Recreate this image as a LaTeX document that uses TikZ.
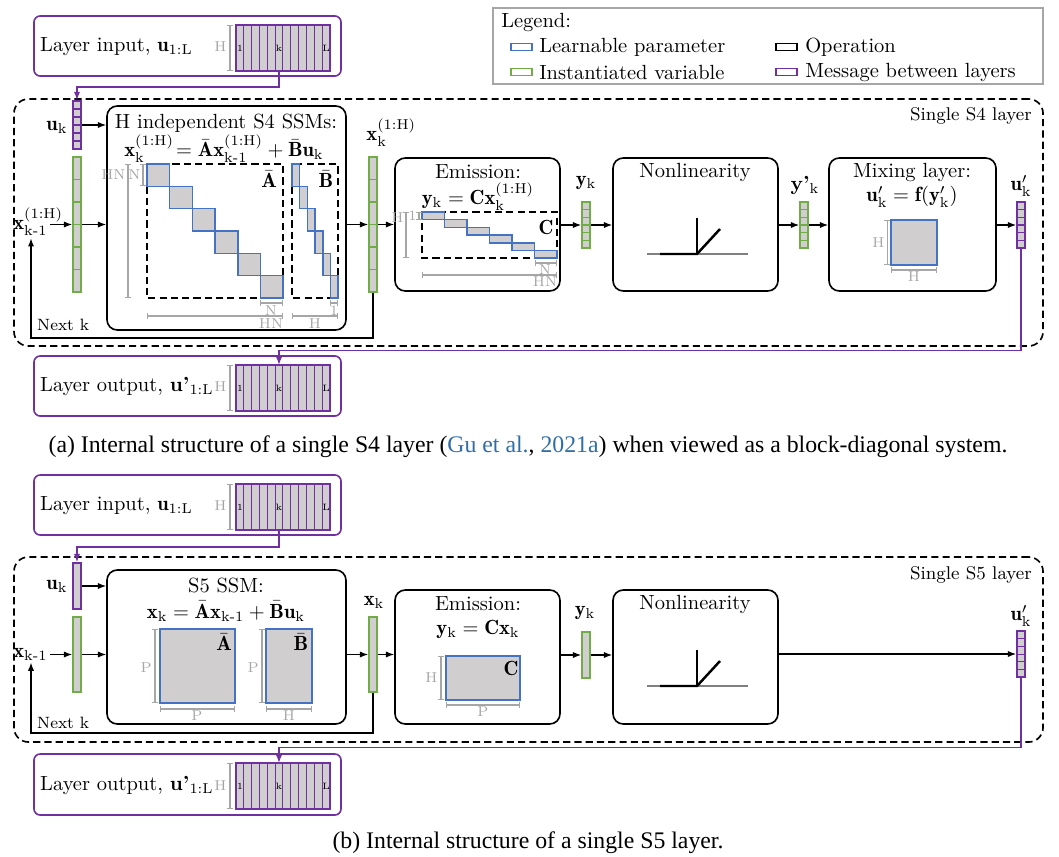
\documentclass[tikz,border=0pt]{standalone}
\usepackage{amsmath}
\usepackage{fontspec}
\newfontfamily\capfont{Liberation Serif}
\usetikzlibrary{arrows.meta,fit}
\definecolor{lblue}{HTML}{4472C4}
\definecolor{lgreen}{HTML}{70AD47}
\definecolor{lpurple}{HTML}{7030A0}
\definecolor{lgrey}{HTML}{D0CECE}
\definecolor{dimgrey}{HTML}{A6A6A6}
\definecolor{citeblue}{HTML}{2F6EA8}
\newcommand{\km}{\mathrm{k}\textrm{-}1}

\begin{document}
\begin{tikzpicture}[x=0.4878pt, y=-0.4878pt]
    \tikzset{%
      opbox/.style={draw, line width=0.8pt, rounded corners=5pt, inner sep=0pt},
      msgbox/.style={draw=lpurple, line width=0.8pt, rounded corners=3pt, inner sep=0pt},
      layerbox/.style={draw, line width=0.8pt, dash pattern=on 3.5pt off 2pt,
        rounded corners=7pt, inner sep=0pt},
      matbox/.style={draw, line width=0.8pt, dash pattern=on 3.5pt off 2pt},
      param/.style={draw=lblue, line width=0.8pt, fill=lgrey},
      vecg/.style={draw=lgreen, line width=0.8pt, fill=lgrey, inner sep=0pt},
      vecp/.style={draw=lpurple, line width=0.8pt, fill=lgrey, inner sep=0pt},
      cellg/.style={lgreen, line width=0.5pt},
      cellp/.style={lpurple, line width=0.5pt},
      dimline/.style={dimgrey, line width=0.5pt, {Bar[width=3pt]}-{Bar[width=3pt]}},
      dimlab/.style={text=dimgrey, font=\scriptsize, inner sep=0.5pt},
      cnum/.style={font=\fontsize{4.5}{5}\selectfont, inner sep=0pt},
      eqn/.style={inner sep=0.5pt},
      flow/.style={-{Latex[length=4pt, width=3pt]}, line width=0.6pt},
      msgflow/.style={flow, lpurple},
      legkey/.style={draw, line width=0.8pt, minimum width=10pt,
        minimum height=3.5pt, inner sep=0pt},
      caption/.style={font=\capfont\fontsize{11.6}{14}\selectfont},
    }
    \useasboundingbox (0,0) rectangle (1059,856);

    % legend
    \node[draw=dimgrey, line width=0.8pt, inner sep=0pt, fit={(493,8) (1043,84)}] (legend) {};
    \node[anchor=west] (legtitle) at (494,23) {Legend:};
    \node[legkey, lblue] (keyparam) at (521.5,47) {};
    \node[anchor=west] at (532,47) {Learnable parameter};
    \node[legkey, lgreen] (keyvar) at (521.5,72) {};
    \node[anchor=west] at (532,72) {Instantiated variable};
    \node[legkey] (keyop) at (786.5,47) {};
    \node[anchor=west] at (798,47) {Operation};
    \node[legkey, lpurple] (keymsg) at (786.5,72) {};
    \node[anchor=west] at (798,72) {Message between layers};

    %%% (a) S4 layer
    \node[msgbox, fit={(34,16) (341,76)}] (inboxa) {};
    \node[anchor=west] (intexta) at (33,47) {Layer input, $\mathbf{u}_{\mathrm{1:L}}$};
    \node[vecp, fit={(236,25) (330,71)}] (ina) {};
    \foreach \i in {1,...,11} \draw[cellp] ({236+\i*7.83},25) -- ({236+\i*7.83},71);
    \node[cnum] at (239.9,48) {1};
    \node[cnum] at (279,48) {k};
    \node[cnum] at (326.1,48) {L};
    \draw[dimline] (230,25) -- (230,71);
    \node[dimlab, anchor=east] at (228,47) {H};
    \coordinate (ka) at (279,71);

    \node[layerbox, fit={(14,99) (1043,346)}] (s4) {};
    \node[anchor=east, font=\small] at (1039,116) {Single S4 layer};

    \node[vecp, fit={(73,101) (81,149)}] (uka) {};
    \foreach \i in {1,...,5} \draw[cellp] (73,{101+\i*8}) -- (81,{101+\i*8});
    \node (uklaba) at (57,127) {$\mathbf{u}_\mathrm{k}$};
    \draw[msgflow] (ka) -- ++(0,16) -| (uka.north);

    \node[vecg, fit={(73,157) (81,292)}] (xpa) {};
    \foreach \i in {1,...,5} \draw[cellg] (73,{157+\i*22.5}) -- (81,{157+\i*22.5});
    \node[anchor=east, inner sep=1pt] (xplaba) at (50,222) {$\mathbf{x}_{\km}^{\rlap{$\scriptstyle(1:\mathrm{H})$}}$};
    \node[anchor=west, font=\footnotesize] at (30,325) {Next k};

    % S4 SSMs
    \node[opbox, fit={(107,106) (346,330)}] (ssma) {};
    \node[eqn] (ssmtitlea) at (226,123) {H independent S4 SSMs:};
    \node[eqn] (ssmeqa) at (224,149) {$\mathbf{x}_\mathrm{k}^{(1:\mathrm{H})}\!= \bar{\mathbf{A}}\mathbf{x}_{\km}^{(1:\mathrm{H})} + \bar{\mathbf{B}}\mathbf{u}_\mathrm{k}$};
    \draw[matbox] (147,164) rectangle (283,298);
    \foreach \i in {0,...,5} \draw[param] ({147+\i*22.67},{164+\i*22.33}) rectangle ++(22.67,22.33);
    \node[eqn] at (269,179) {$\bar{\mathbf{A}}$};
    \draw[matbox] (292,164) rectangle (338,298);
    \foreach \i in {0,...,5} \draw[param] ({292+\i*7.67},{164+\i*22.33}) rectangle ++(7.67,22.33);
    \node[eqn] at (326,179) {$\bar{\mathbf{B}}$};
    \draw[dimline] (128,164) -- (128,298);
    \node[dimlab, anchor=east] at (127,175) {HN};
    \draw[dimline] (143,164) -- (143,186);
    \node[dimlab, anchor=east] at (142,175) {N};
    \draw[dimline] (260,303) -- (283,303);
    \node[dimlab] at (271,311) {N};
    \draw[dimline] (147,316) -- (283,316);
    \node[dimlab] at (271,324) {HN};
    \draw[dimline] (330,303) -- (338,303);
    \node[dimlab] at (334,311) {1};
    \draw[dimline] (292,316) -- (338,316);
    \node[dimlab] at (315,324) {H};

    \node[vecg, fit={(369,157) (377,292)}] (xka) {};
    \foreach \i in {1,...,5} \draw[cellg] (369,{157+\i*22.5}) -- (377,{157+\i*22.5});
    \node[anchor=west, inner sep=1pt] (xklaba) at (364,133) {$\mathbf{x}_\mathrm{k}^{(1:\mathrm{H})}$};

    % emission
    \node[opbox, fit={(395,158) (560,291)}] (emisa) {};
    \node[eqn] (emistitlea) at (478,172) {Emission:};
    \node[eqn] (emiseqa) at (478,197) {$\mathbf{y}_\mathrm{k} = \mathbf{C}\mathbf{x}_\mathrm{k}^{(1:\mathrm{H})}$};
    \draw[matbox] (422,212) rectangle (557,258);
    \foreach \i in {0,...,5} \draw[param] ({422+\i*22.5},{212+\i*7.67}) rectangle ++(22.5,7.67);
    \node[eqn] at (546,227) {$\mathbf{C}$};
    \draw[dimline] (406,212) -- (406,258);
    \node[dimlab, anchor=east] at (405,218) {H};
    \draw[dimline] (419,212) -- (419,220);
    \node[dimlab, anchor=east] at (418,216) {1};
    \draw[dimline] (535,263) -- (557,263);
    \node[dimlab] at (545,270) {N};
    \draw[dimline] (422,275) -- (557,275);
    \node[dimlab] at (545,282) {HN};

    \node[vecg, fit={(582,202) (590,248)}] (yka) {};
    \foreach \i in {1,...,5} \draw[cellg] (582,{202+\i*7.67}) -- (590,{202+\i*7.67});
    \node (yklaba) at (586,183) {$\mathbf{y}_\mathrm{k}$};

    % nonlinearity
    \node[opbox, fit={(613,158) (778,291)}] (nla) {};
    \node[eqn] (nltitlea) at (695,172) {Nonlinearity};
    \draw[gray, line width=0.5pt] (647,254) -- (748,254);
    \draw[line width=0.6pt] (697,218) -- (697,254);
    \draw[line width=1.2pt] (660,254) -- (697,254) -- (720,229);

    \node[vecg, fit={(800,202) (808,248)}] (ypka) {};
    \foreach \i in {1,...,5} \draw[cellg] (800,{202+\i*7.67}) -- (808,{202+\i*7.67});
    \node (ypklaba) at (805,185) {\textbf{y'}$_\mathrm{k}$};

    % mixing layer
    \node[opbox, fit={(829,158) (996,291)}] (mixa) {};
    \node[eqn] (mixtitlea) at (912,172) {Mixing layer:};
    \node[eqn] (mixeqa) at (912,197) {$\mathbf{u}'_\mathrm{k} = \mathbf{f}(\mathbf{y}'_\mathrm{k})$};
    \draw[param] (891,220) rectangle (937,265);
    \draw[dimline] (887,220) -- (887,265);
    \node[dimlab, anchor=east] at (886,243) {H};
    \draw[dimline] (891,270) -- (937,270);
    \node[dimlab] at (914,277) {H};

    \node[vecp, fit={(1017,202) (1025,248)}] (upka) {};
    \foreach \i in {1,...,5} \draw[cellp] (1017,{202+\i*7.67}) -- (1025,{202+\i*7.67});
    \node (upklaba) at (1021,186) {$\mathbf{u}'_\mathrm{k}$};

    \draw[flow] (uka.east) -- (uka.east -| ssma.west);
    \draw[flow] (xpa.west -| xplaba.east) -- (xpa.west);
    \draw[flow] (xpa.east) -- (xpa.east -| ssma.west);
    \draw[flow] (xka.west -| ssma.east) -- (xka.west);
    \draw[flow] (xka.east) -- (xka.east -| emisa.west);
    \draw[flow] (yka.west -| emisa.east) -- (yka.west);
    \draw[flow] (yka.east) -- (yka.east -| nla.west);
    \draw[flow] (ypka.west -| nla.east) -- (ypka.west);
    \draw[flow] (ypka.east) -- (ypka.east -| mixa.west);
    \draw[flow] (upka.west -| mixa.east) -- (upka.west);
    \coordinate (loopa) at (31,338);
    \draw[flow] (xka.south) |- (loopa) -- (loopa |- xplaba.south);

    \node[msgbox, fit={(34,356) (341,416)}] (outboxa) {};
    \node[anchor=west] (outtexta) at (33,386) {Layer output, \textbf{u'}$_{\mathrm{1:L}}$};
    \node[vecp, fit={(236,365) (330,411)}] (outa) {};
    \foreach \i in {1,...,11} \draw[cellp] ({236+\i*7.83},365) -- ({236+\i*7.83},411);
    \node[cnum] at (239.9,388) {1};
    \node[cnum] at (279,388) {k};
    \node[cnum] at (326.1,388) {L};
    \draw[dimline] (230,365) -- (230,411);
    \node[dimlab, anchor=east] at (228,387) {H};
    \coordinate (koa) at (279,365);
    \draw[msgflow] (upka.south) -- ++(0,102) -| (koa);

    \node[caption] (capa) at (528,447) {(a) Internal structure of a single S4 layer (\textcolor{citeblue}{Gu et al.}, \textcolor{citeblue}{2021a}) when viewed as a block-diagonal system.};

    %%% (b) S5 layer
    \node[msgbox, fit={(34,475) (341,535)}] (inboxb) {};
    \node[anchor=west] (intextb) at (33,506) {Layer input, $\mathbf{u}_{\mathrm{1:L}}$};
    \node[vecp, fit={(236,484) (330,530)}] (inb) {};
    \foreach \i in {1,...,11} \draw[cellp] ({236+\i*7.83},484) -- ({236+\i*7.83},530);
    \node[cnum] at (239.9,507) {1};
    \node[cnum] at (279,507) {k};
    \node[cnum] at (326.1,507) {L};
    \draw[dimline] (230,484) -- (230,530);
    \node[dimlab, anchor=east] at (228,506) {H};
    \coordinate (kb) at (279,530);

    \node[layerbox, fit={(14,557) (1043,742)}] (s5) {};
    \node[anchor=east, font=\small] at (1039,575) {Single S5 layer};

    \node[vecp, fit={(73,563) (81,609)}] (ukb) {};
    \node (uklabb) at (57,586) {$\mathbf{u}_\mathrm{k}$};
    \draw[msgflow] (kb) -- ++(0,17) -| (ukb.north);

    \node[vecg, fit={(73,617) (81,692)}] (xpb) {};
    \node[anchor=east, inner sep=1pt] (xplabb) at (50,654) {$\mathbf{x}_{\km}$};
    \node[anchor=west, font=\footnotesize] at (30,723) {Next k};

    % S5 SSM
    \node[opbox, fit={(107,570) (346,724)}] (ssmb) {};
    \node[eqn] (ssmtitleb) at (226,585) {S5 SSM:};
    \node[eqn] (ssmeqb) at (226,611) {$\mathbf{x}_\mathrm{k} = \bar{\mathbf{A}}\mathbf{x}_{\km} + \bar{\mathbf{B}}\mathbf{u}_\mathrm{k}$};
    \draw[param] (160,629) rectangle (235,703);
    \node[eqn] at (224,642) {$\bar{\mathbf{A}}$};
    \draw[param] (266,629) rectangle (312,703);
    \node[eqn] at (301,642) {$\bar{\mathbf{B}}$};
    \draw[dimline] (155,629) -- (155,703);
    \node[dimlab, anchor=east] at (153,668) {P};
    \draw[dimline] (160,709) -- (235,709);
    \node[dimlab] at (197,716) {P};
    \draw[dimline] (262,629) -- (262,703);
    \node[dimlab, anchor=east] at (260,668) {P};
    \draw[dimline] (266,709) -- (312,709);
    \node[dimlab] at (289,716) {H};

    \node[vecg, fit={(369,617) (377,692)}] (xkb) {};
    \node (xklabb) at (374,602) {$\mathbf{x}_\mathrm{k}$};

    % emission
    \node[opbox, fit={(395,590) (560,724)}] (emisb) {};
    \node[eqn] (emistitleb) at (478,604) {Emission:};
    \node[eqn] (emiseqb) at (478,629) {$\mathbf{y}_\mathrm{k} = \mathbf{C}\mathbf{x}_\mathrm{k}$};
    \draw[param] (446,656) rectangle (520,700);
    \node[eqn] at (511,668) {$\mathbf{C}$};
    \draw[dimline] (441,656) -- (441,700);
    \node[dimlab, anchor=east] at (439,678) {H};
    \draw[dimline] (446,705) -- (520,705);
    \node[dimlab] at (483,712) {P};

    \node[vecg, fit={(582,632) (590,678)}] (ykb) {};
    \node (yklabb) at (585,613) {$\mathbf{y}_\mathrm{k}$};

    % nonlinearity
    \node[opbox, fit={(613,590) (778,724)}] (nlb) {};
    \node[eqn] (nltitleb) at (695,604) {Nonlinearity};
    \draw[gray, line width=0.5pt] (647,686) -- (748,686);
    \draw[line width=0.6pt] (697,650) -- (697,686);
    \draw[line width=1.2pt] (660,686) -- (697,686) -- (720,661);

    \node[vecp, fit={(1017,631) (1025,677)}] (upkb) {};
    \foreach \i in {1,...,5} \draw[cellp] (1017,{631+\i*7.67}) -- (1025,{631+\i*7.67});
    \node (upklabb) at (1021,616) {$\mathbf{u}'_\mathrm{k}$};

    \draw[flow] (ukb.east) -- (ukb.east -| ssmb.west);
    \draw[flow] (xpb.west -| xplabb.east) -- (xpb.west);
    \draw[flow] (xpb.east) -- (xpb.east -| ssmb.west);
    \draw[flow] (xkb.west -| ssmb.east) -- (xkb.west);
    \draw[flow] (xkb.east) -- (xkb.east -| emisb.west);
    \draw[flow] (ykb.west -| emisb.east) -- (ykb.west);
    \draw[flow] (ykb.east) -- (ykb.east -| nlb.west);
    \draw[flow] (upkb.west -| nlb.east) -- (upkb.west);
    \coordinate (loopb) at (31,733);
    \draw[flow] (xkb.south) |- (loopb) -- (loopb |- xplabb.south);

    \node[msgbox, fit={(34,754) (341,815)}] (outboxb) {};
    \node[anchor=west] (outtextb) at (33,785) {Layer output, \textbf{u'}$_{\mathrm{1:L}}$};
    \node[vecp, fit={(236,763) (330,809)}] (outb) {};
    \foreach \i in {1,...,11} \draw[cellp] ({236+\i*7.83},763) -- ({236+\i*7.83},809);
    \node[cnum] at (239.9,786) {1};
    \node[cnum] at (279,786) {k};
    \node[cnum] at (326.1,786) {L};
    \draw[dimline] (230,763) -- (230,809);
    \node[dimlab, anchor=east] at (228,786) {H};
    \coordinate (kob) at (279,763);
    \draw[msgflow] (upkb.south) -- ++(0,70) -| (kob);

    \node[caption] (capb) at (528,843) {(b) Internal structure of a single S5 layer.};
\end{tikzpicture}
\end{document}
